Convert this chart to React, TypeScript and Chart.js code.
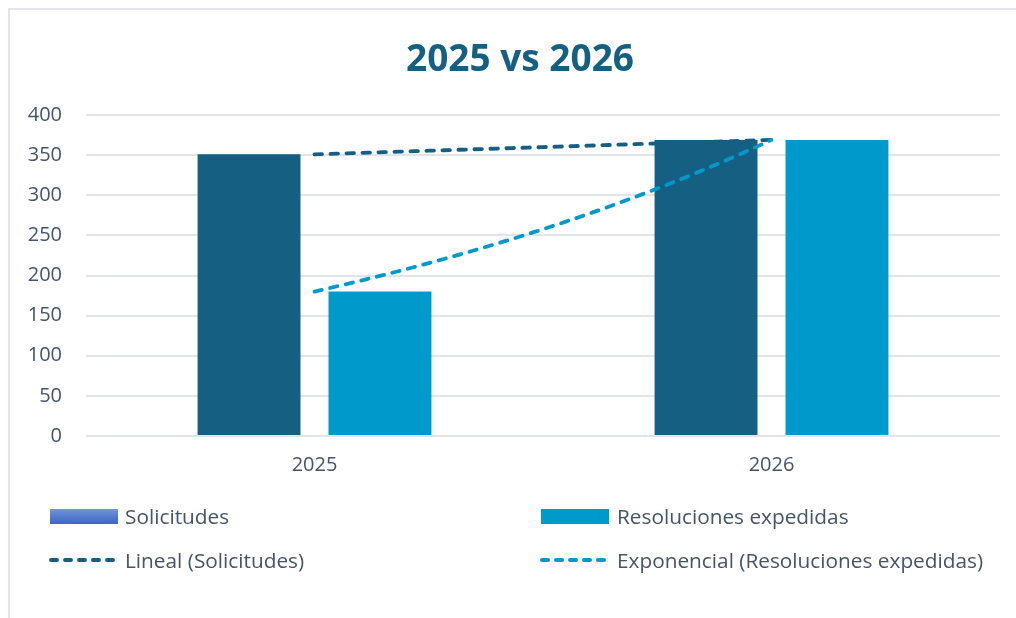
import React, { useEffect, useRef } from "react";
import { Chart, registerables } from "chart.js";

Chart.register(...registerables);

// ---- Data ----
const title = "2025 vs 2026";
const categories = ["2025", "2026"];
const solicitudes = [351, 369];
const resoluciones = [180, 369];
const yMin = 0;
const yMax = 400;
const yStep = 50;
const legendLabels = [
  "Solicitudes",
  "Resoluciones expedidas",
  "Lineal (Solicitudes)",
  "Exponencial (Resoluciones expedidas)",
];

// ---- Style ----
const DARK = "#156082";
const LIGHT = "#0099CC";
const TEXT = "#44546A";
const GRID = "#E1E4E8";
const FONT = "'Open Sans', 'Noto Sans', sans-serif";

function linearFit(vals: number[]) {
  const n = vals.length;
  let sx = 0, sy = 0, sxx = 0, sxy = 0;
  vals.forEach((v, i) => { sx += i; sy += v; sxx += i * i; sxy += i * v; });
  const b = (n * sxy - sx * sy) / (n * sxx - sx * sx);
  const a = (sy - b * sx) / n;
  return (t: number) => a + b * t;
}

function expFit(vals: number[]) {
  const lin = linearFit(vals.map((v) => Math.log(v)));
  return (t: number) => Math.exp(lin(t));
}

const trendPlugin = {
  id: "trendlines",
  afterDatasetsDraw(chart: any) {
    const { ctx } = chart;
    const x = chart.scales.x;
    const y = chart.scales.y;
    const lines = [
      { f: linearFit(solicitudes), color: DARK, n: solicitudes.length },
      { f: expFit(resoluciones), color: LIGHT, n: resoluciones.length },
    ];
    ctx.save();
    for (const l of lines) {
      ctx.beginPath();
      ctx.strokeStyle = l.color;
      ctx.lineWidth = 3.8;
      ctx.lineCap = "round";
      ctx.setLineDash([7.5, 8.5]);
      const steps = 60;
      for (let s = 0; s <= steps; s++) {
        const t = ((l.n - 1) * s) / steps;
        const px = x.getPixelForValue(t);
        const py = y.getPixelForValue(l.f(t));
        if (s === 0) ctx.moveTo(px, py);
        else ctx.lineTo(px, py);
      }
      ctx.stroke();
    }
    ctx.restore();
  },
};

function DashSwatch({ color }: { color: string }) {
  return (
    <svg width={72} height={10} style={{ display: "block" }}>
      <line x1={3} y1={5} x2={69} y2={5} stroke={color} strokeWidth={4}
        strokeLinecap="round" strokeDasharray="6 8" />
    </svg>
  );
}

export default function App() {
  const canvasRef = useRef<HTMLCanvasElement | null>(null);

  useEffect(() => {
    const canvas = canvasRef.current;
    if (!canvas) return;
    const chart = new Chart(canvas, {
      type: "bar",
      data: {
        labels: categories,
        datasets: [
          {
            label: legendLabels[0],
            data: solicitudes,
            backgroundColor: DARK,
            categoryPercentage: 0.573,
            barPercentage: 0.786,
          },
          {
            label: legendLabels[1],
            data: resoluciones,
            backgroundColor: LIGHT,
            categoryPercentage: 0.573,
            barPercentage: 0.786,
          },
        ],
      },
      options: {
        animation: false,
        responsive: false,
        maintainAspectRatio: false,
        layout: { padding: { left: 0, top: 115, right: 16, bottom: 0 } },
        plugins: {
          legend: { display: false },
          title: { display: false },
          tooltip: { enabled: false },
        },
        scales: {
          x: {
            grid: { display: false, drawTicks: false },
            border: { display: false },
            ticks: {
              color: TEXT,
              font: { family: FONT, size: 20 },
              padding: 17,
            },
            afterFit: (scale: any) => { scale.height = 182; },
          },
          y: {
            min: yMin,
            max: yMax,
            grid: { color: GRID, lineWidth: 2, drawTicks: false },
            border: { display: false },
            ticks: {
              stepSize: yStep,
              color: TEXT,
              font: { family: FONT, size: 20 },
              padding: 24,
            },
            afterFit: (scale: any) => { scale.width = 86; },
          },
        },
      },
      plugins: [trendPlugin],
    });
    return () => chart.destroy();
  }, []);

  const legendText: React.CSSProperties = {
    position: "absolute",
    fontFamily: FONT,
    fontSize: 20.8,
    color: TEXT,
    lineHeight: "24px",
    whiteSpace: "nowrap",
  };

  return (
    <div style={{ position: "fixed", left: 0, top: 0, width: 1016, height: 618, overflow: "hidden", background: "#fff" }}>
      <div style={{ position: "absolute", left: 8, top: 8, width: 1200, height: 800, borderTop: "2px solid #E3E6EA", borderLeft: "2px solid #E3E6EA" }} />
      <canvas ref={canvasRef} width={1016} height={618} style={{ position: "absolute", left: 0, top: 0, width: 1016, height: 618 }} />
      <div style={{ position: "absolute", left: 0, width: 1040, top: 32, textAlign: "center", fontFamily: FONT, fontWeight: 700, fontSize: 37, lineHeight: "50px", color: DARK }}>
        {title}
      </div>
      {/* Legend */}
      <div style={{ position: "absolute", left: 50, top: 509, width: 68, height: 15, background: "linear-gradient(#7393DA, #3A66C4)" }} />
      <div style={{ ...legendText, left: 125, top: 504 }}>{legendLabels[0]}</div>
      <div style={{ position: "absolute", left: 541, top: 509, width: 68, height: 15, background: LIGHT }} />
      <div style={{ ...legendText, left: 617, top: 504 }}>{legendLabels[1]}</div>
      <div style={{ position: "absolute", left: 48, top: 555 }}><DashSwatch color={DARK} /></div>
      <div style={{ ...legendText, left: 125, top: 548 }}>{legendLabels[2]}</div>
      <div style={{ position: "absolute", left: 539, top: 555 }}><DashSwatch color={LIGHT} /></div>
      <div style={{ ...legendText, left: 617, top: 548 }}>{legendLabels[3]}</div>
    </div>
  );
}
